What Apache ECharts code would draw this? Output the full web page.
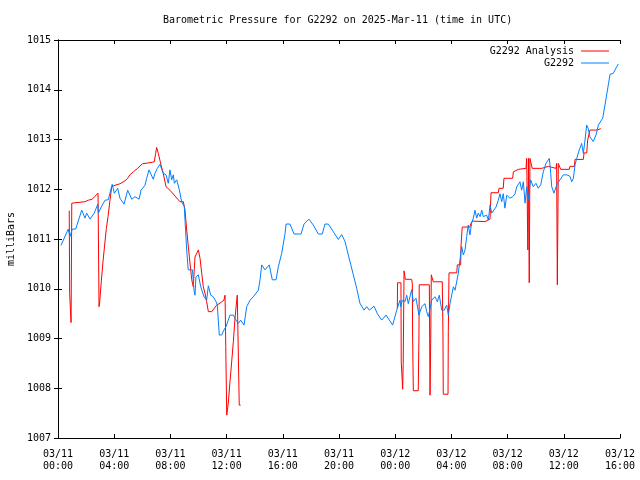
<!DOCTYPE html>
<html>
<head>
<meta charset="utf-8">
<script src="https://cdn.jsdelivr.net/npm/echarts@6/dist/echarts.min.js"></script>
<style>html,body{margin:0;padding:0;background:#fff}#c{width:640px;height:480px}</style>
</head>
<body>
<div id="c"></div>
<script>
// Hours since 2025-03-11 00:00 UTC
const xTickHours = [0, 4, 8, 12, 16, 20, 24, 28, 32, 36, 40];
const yTicks = [1007, 1008, 1009, 1010, 1011, 1012, 1013, 1014, 1015];

const stationHours = [0.21,0.73,0.85,1.02,1.26,1.69,1.92,2.04,2.28,2.58,2.83,2.87,3.11,3.35,3.58,3.86,4.01,4.25,4.41,4.70,4.96,5.25,5.48,5.77,5.91,6.19,6.31,6.48,6.78,6.90,7.07,7.26,7.49,7.69,7.85,7.97,8.09,8.21,8.28,8.45,8.61,8.80,8.99,9.04,9.16,9.27,9.57,9.68,9.75,9.82,9.99,10.16,10.39,10.58,10.70,10.87,11.05,11.25,11.34,11.48,11.65,11.81,11.96,12.12,12.24,12.48,12.67,12.83,13.00,13.24,13.43,13.67,13.90,14.26,14.38,14.50,14.73,15.04,15.25,15.52,15.68,15.92,16.16,16.23,16.51,16.80,17.30,17.51,17.86,18.17,18.53,18.81,19.00,19.24,19.59,19.95,20.19,20.43,20.66,21.02,21.26,21.49,21.78,21.97,22.16,22.49,22.73,23.04,23.35,23.58,23.82,24.11,24.34,24.39,24.51,24.70,24.82,24.93,25.17,25.29,25.48,25.69,25.89,26.12,26.24,26.36,26.60,26.83,27.00,27.14,27.31,27.49,27.67,27.78,27.90,28.14,28.26,28.38,28.49,28.61,28.73,28.85,28.97,29.09,29.20,29.32,29.44,29.56,29.68,29.80,29.91,30.04,30.16,30.27,30.51,30.63,30.75,30.87,30.98,31.17,31.34,31.46,31.58,31.69,31.81,31.94,32.17,32.36,32.53,32.65,32.88,33.00,33.12,33.24,33.36,33.47,33.64,33.83,34.02,34.18,34.36,34.54,34.73,34.97,35.07,35.14,35.30,35.44,35.54,35.73,35.96,36.21,36.44,36.56,36.68,36.80,36.92,37.10,37.27,37.39,37.51,37.63,37.74,37.86,37.99,38.10,38.29,38.46,38.58,38.77,38.93,39.17,39.29,39.52,39.76,39.88];
const stationValues = [1010.87,1011.20,1011.05,1011.20,1011.20,1011.58,1011.42,1011.52,1011.40,1011.52,1011.70,1011.52,1011.66,1011.78,1011.79,1012.10,1011.92,1012.02,1011.82,1011.70,1011.98,1011.80,1011.85,1011.80,1011.98,1012.08,1012.22,1012.39,1012.20,1012.32,1012.42,1012.50,1012.32,1012.29,1012.12,1012.39,1012.19,1012.29,1012.12,1012.19,1012.02,1011.75,1011.65,1011.38,1010.78,1010.38,1010.38,1009.97,1009.87,1010.24,1010.28,1010.04,1009.84,1009.77,1010.06,1009.87,1009.84,1009.74,1009.67,1009.07,1009.07,1009.17,1009.24,1009.37,1009.47,1009.47,1009.37,1009.30,1009.37,1009.27,1009.64,1009.77,1009.84,1009.97,1010.18,1010.48,1010.38,1010.48,1010.18,1010.18,1010.44,1010.71,1011.11,1011.30,1011.30,1011.10,1011.10,1011.30,1011.40,1011.28,1011.10,1011.10,1011.30,1011.30,1011.15,1010.99,1011.09,1010.95,1010.68,1010.28,1010.01,1009.71,1009.57,1009.64,1009.57,1009.65,1009.50,1009.37,1009.47,1009.37,1009.27,1009.57,1009.77,1009.64,1009.77,1009.74,1009.87,1009.70,1009.98,1009.74,1009.81,1009.47,1009.64,1009.70,1009.54,1009.44,1009.77,1009.84,1009.74,1009.87,1009.57,1009.57,1009.67,1009.47,1009.70,1010.04,1009.97,1009.97,1010.31,1010.58,1010.85,1010.68,1010.78,1011.05,1011.28,1011.08,1011.32,1011.42,1011.58,1011.42,1011.52,1011.45,1011.58,1011.45,1011.48,1011.38,1011.68,1011.52,1011.48,1011.64,1011.78,1011.91,1011.75,1011.91,1011.62,1011.88,1011.82,1011.85,1011.91,1012.05,1012.15,1011.98,1012.15,1011.72,1012.05,1011.78,1012.19,1012.05,1012.12,1012.02,1012.09,1012.35,1012.52,1012.62,1012.32,1012.05,1011.92,1011.95,1012.12,1012.19,1012.29,1012.29,1012.26,1012.15,1012.22,1012.49,1012.62,1012.79,1012.92,1012.72,1012.99,1013.29,1013.22,1013.05,1013.09,1012.96,1013.09,1013.29,1013.26,1013.43,1013.69,1014.10,1014.31,1014.33,1014.46,1014.52];

const analysisHours = [0.80,0.83,0.90,0.93,0.98,1.92,2.16,2.44,2.63,2.85,2.92,2.97,3.08,3.20,3.32,3.44,3.56,3.70,3.82,4.06,4.41,4.77,4.96,5.12,5.36,5.67,6.00,6.43,6.85,6.95,7.02,7.14,7.33,7.49,7.69,7.97,8.68,8.92,9.04,9.16,9.35,9.52,9.63,9.75,9.99,10.11,10.23,10.34,10.46,10.58,10.70,10.94,11.29,11.53,11.81,11.89,11.94,12.01,12.12,12.24,12.36,12.48,12.60,12.72,12.76,12.83,12.90,13.00,18.00,24.15,24.17,24.41,24.43,24.50,24.53,24.57,24.63,24.70,24.72,25.17,25.22,25.24,25.29,25.64,25.69,25.71,26.43,26.48,26.53,26.57,26.71,27.35,27.40,27.42,27.76,27.78,27.83,28.38,28.42,28.66,28.68,28.77,29.32,29.37,29.49,30.39,30.44,30.75,30.82,31.34,31.39,31.69,31.74,32.36,32.41,32.76,32.81,33.31,33.36,33.44,33.49,33.54,33.59,33.71,33.75,34.43,34.47,34.90,34.95,35.44,35.49,35.54,35.61,35.73,35.78,36.39,36.44,36.75,36.80,37.39,37.44,37.63,37.70,37.86,38.38,38.46,38.63];
const analysisValues = [1011.57,1009.90,1009.90,1009.32,1011.72,1011.75,1011.78,1011.80,1011.86,1011.92,1009.64,1009.74,1010.14,1010.54,1010.88,1011.21,1011.45,1011.78,1012.05,1012.08,1012.11,1012.17,1012.22,1012.29,1012.35,1012.42,1012.51,1012.53,1012.55,1012.72,1012.84,1012.72,1012.49,1012.32,1012.05,1011.98,1011.75,1011.75,1011.58,1011.18,1010.64,1010.18,1010.04,1010.64,1010.78,1010.61,1010.31,1010.04,1009.91,1009.74,1009.54,1009.54,1009.67,1009.71,1009.77,1009.87,1008.84,1007.46,1007.70,1008.13,1008.53,1008.94,1009.41,1009.77,1009.87,1009.87,1007.66,1007.66,null,1009.60,1010.12,1010.12,1008.53,1008.53,1007.98,1008.50,1010.36,1010.36,1010.19,1010.19,1010.10,1009.05,1007.95,1007.95,1009.05,1010.08,1010.08,1007.86,1009.00,1010.28,1010.14,1010.14,1009.05,1007.88,1007.88,1009.14,1010.32,1010.32,1010.48,1010.48,1010.85,1011.24,1011.24,1011.30,1011.36,1011.35,1011.38,1011.40,1011.93,1011.93,1012.02,1012.02,1012.22,1012.22,1012.35,1012.40,1012.42,1012.42,1012.62,1010.78,1012.62,1010.12,1012.62,1012.62,1012.42,1012.42,1012.46,1012.46,1012.42,1012.42,1012.52,1010.08,1012.52,1012.52,1012.40,1012.40,1012.46,1012.46,1012.60,1012.60,1012.73,1012.73,1012.99,1013.19,1013.19,1013.22,1013.22];

const FONT = 'DejaVu Sans Mono';
function pairs(hs, vs) { return hs.map((h, i) => [h, vs[i] === null ? '-' : vs[i]]); }
function xLabel(h) {
  const day = 11 + Math.floor(h / 24);
  const hr = h % 24;
  return '03/' + day + '\n' + (hr < 10 ? '0' : '') + hr + ':00';
}
const chart = echarts.init(document.getElementById('c'), null, {renderer: 'canvas'});
const axisLine = {show: true, lineStyle: {color: '#000', width: 1}};
const tick = {show: true, inside: true, length: 4, lineStyle: {color: '#000', width: 1}};
chart.setOption({
  animation: false,
  backgroundColor: '#fff',
  title: {
    text: 'Barometric Pressure for G2292 on 2025-Mar-11 (time in UTC)',
    left: 163, top: 15, padding: 0,
    textStyle: {fontFamily: FONT, fontSize: 10, fontWeight: 'normal', color: '#000'}
  },
  legend: {
    orient: 'vertical', right: 31, top: 45, align: 'right', padding: 0,
    icon: 'rect', itemWidth: 28, itemHeight: 1, itemGap: 0,
    textStyle: {fontFamily: FONT, fontSize: 10, color: '#000', lineHeight: 12, height: 12, padding: [0, 2, 0, 0]},
    data: ['G2292 Analysis', 'G2292']
  },
  grid: {left: 58, right: 20, top: 40, bottom: 42, containLabel: false, outerBoundsMode: 'none'},
  xAxis: [{
    type: 'value', min: xTickHours[0], max: xTickHours[xTickHours.length - 1], interval: 4,
    position: 'bottom', axisLine, axisTick: tick, splitLine: {show: false},
    axisLabel: {formatter: xLabel, fontFamily: FONT, fontSize: 10, color: '#000', lineHeight: 12, margin: 10}
  }, {
    type: 'value', min: 0, max: 40, interval: 4, position: 'top',
    axisLine, axisTick: tick, axisLabel: {show: false}, splitLine: {show: false}
  }],
  yAxis: [{
    type: 'value', min: yTicks[0], max: yTicks[yTicks.length - 1], interval: 1,
    position: 'left', axisLine, axisTick: tick, splitLine: {show: false},
    axisLabel: {fontFamily: FONT, fontSize: 10, color: '#000', margin: 7, formatter: v => String(v)},
    name: 'milliBars', nameLocation: 'middle', nameGap: 40, nameRotate: 90,
    nameTextStyle: {fontFamily: FONT, fontSize: 10, color: '#000'}
  }, {
    type: 'value', min: 1007, max: 1015, interval: 1, position: 'right',
    axisLine, axisTick: tick, axisLabel: {show: false}, splitLine: {show: false}
  }],
  series: [{
    name: 'G2292 Analysis', type: 'line', symbol: 'none', connectNulls: false,
    lineStyle: {color: '#ff0000', width: 1}, itemStyle: {color: '#ff0000'},
    data: pairs(analysisHours, analysisValues)
  }, {
    name: 'G2292', type: 'line', symbol: 'none',
    lineStyle: {color: '#0080ff', width: 1}, itemStyle: {color: '#0080ff'},
    data: pairs(stationHours, stationValues)
  }]
});
</script>
</body>
</html>
